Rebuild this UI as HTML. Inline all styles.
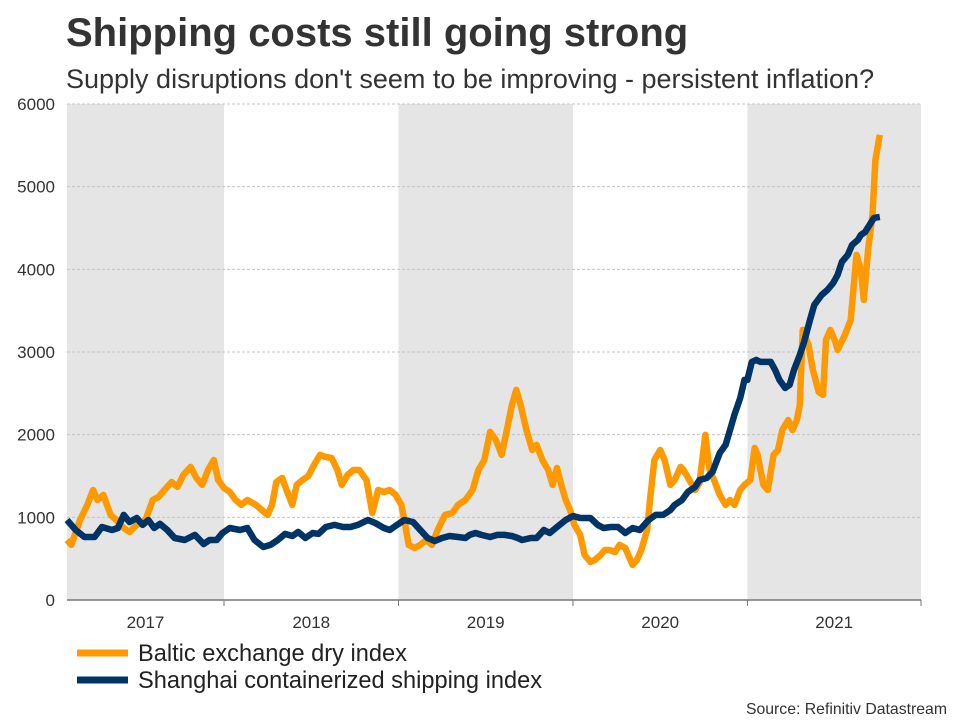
<!DOCTYPE html>
<html><head><meta charset="utf-8"><style>
body{margin:0;background:#fff;font-family:"Liberation Sans",Arial,sans-serif;}
svg text{font-family:"Liberation Sans",Arial,sans-serif;}
</style></head><body>
<svg id="chart" width="960" height="720" viewBox="0 0 960 720">
<text x="66" y="46" font-size="40" font-weight="bold" fill="#333">Shipping costs still going strong</text>
<text x="66" y="88" font-size="27" fill="#333">Supply disruptions don't seem to be improving - persistent inflation?</text>
<g id="bands"></g><g id="grid"></g><g id="axes"></g><g id="lines"></g>
<g>
<line x1="77" y1="653" x2="128" y2="653" stroke="#ff9900" stroke-width="7"/>
<text x="138" y="661" font-size="23.6" fill="#222">Baltic exchange dry index</text>
<line x1="77" y1="680" x2="128" y2="680" stroke="#003366" stroke-width="7"/>
<text x="138" y="688" font-size="23.6" fill="#222">Shanghai containerized shipping index</text>
</g>
<text x="947" y="714" font-size="15.8" fill="#333" text-anchor="end">Source: Refinitiv Datastream</text>
</svg>
<script>
// months since Jan 2017 (0 = Jan 2017)
const balticMonths=[1.2,1.5,2.1,2.6,3.0,3.3,3.7,4.2,4.6,5.1,5.5,6.0,6.6,7.1,7.5,7.9,8.4,8.8,9.2,9.7,10.1,10.5,10.9,11.3,11.6,12.0,12.4,12.8,13.2,13.6,14.2,14.6,15.0,15.3,15.6,16.0,16.3,16.7,17.0,17.4,17.8,18.2,18.6,19.0,19.4,19.8,20.1,20.5,20.9,21.3,21.8,22.2,22.6,23.0,23.4,23.8,24.2,24.4,24.7,25.1,25.5,25.9,26.3,26.7,27.2,27.7,28.1,28.6,29.1,29.5,29.9,30.3,30.7,31.1,31.5,31.8,32.1,32.4,32.8,33.2,33.5,33.9,34.3,34.6,34.9,35.2,35.5,35.8,36.1,36.5,36.8,37.2,37.5,37.9,38.2,38.5,38.9,39.2,39.6,39.8,40.1,40.4,40.7,41.1,41.3,41.6,42.0,42.3,42.7,43.0,43.4,43.6,44.0,44.4,44.7,45.1,45.4,45.7,46.1,46.5,46.8,47.1,47.5,47.8,48.2,48.5,48.7,49.1,49.4,49.8,50.1,50.4,50.8,51.1,51.4,51.6,51.8,52.2,52.5,52.9,53.2,53.4,53.7,54.0,54.2,54.7,55.1,55.5,55.8,56.0,56.3,56.6,56.8,57.1];
const balticValues=[726,666,968,1150,1331,1210,1271,1029,968,871,823,908,968,1210,1247,1331,1428,1368,1513,1610,1477,1392,1573,1694,1452,1355,1307,1210,1150,1210,1150,1089,1029,1150,1428,1477,1331,1150,1392,1452,1500,1634,1755,1730,1718,1573,1392,1513,1573,1573,1452,1053,1331,1307,1331,1271,1150,968,666,629,666,726,666,847,1029,1053,1150,1210,1331,1573,1694,2033,1936,1755,2093,2360,2541,2360,2057,1815,1876,1694,1573,1392,1597,1392,1210,1089,908,787,545,460,484,545,605,605,581,666,629,545,424,484,605,847,1210,1694,1815,1694,1392,1452,1610,1573,1452,1331,1416,1997,1573,1452,1271,1150,1210,1150,1331,1392,1452,1839,1755,1392,1331,1755,1815,2057,2178,2057,2178,2360,3267,3086,2783,2517,2481,3146,3267,3146,3025,3207,3388,4175,3993,3630,4235,4659,5324,5627];
const shanghaiMonths=[1.2,1.8,2.4,3.1,3.6,4.3,4.7,5.1,5.5,6.0,6.4,6.8,7.2,7.6,8.1,8.6,9.3,10.0,10.6,11.0,11.5,11.9,12.4,13.1,13.6,14.1,14.7,15.2,15.7,16.2,16.7,17.1,17.6,18.1,18.5,19.0,19.6,20.2,20.7,21.2,21.9,22.4,23.0,23.4,23.9,24.4,25.0,25.5,26.0,26.5,27.0,27.5,28.1,28.6,28.9,29.3,29.7,30.3,30.8,31.3,31.8,32.2,32.5,33.1,33.5,34.0,34.4,34.9,35.5,36.0,36.5,37.2,37.7,38.1,38.6,39.1,39.6,40.1,40.6,41.2,41.7,42.2,42.7,43.0,43.5,43.9,44.4,44.7,45.2,45.6,46.1,46.5,46.8,47.1,47.5,47.8,48.0,48.3,48.6,48.9,49.3,49.6,49.9,50.2,50.6,50.9,51.2,51.6,51.9,52.3,52.6,53.1,53.5,53.9,54.2,54.5,54.9,55.2,55.6,55.8,56.1,56.4,56.7,57.1];
const shanghaiValues=[968,847,762,762,883,847,871,1029,944,992,908,968,871,920,847,750,726,787,678,726,726,811,871,847,871,726,641,666,726,799,774,823,750,811,799,883,908,883,883,908,968,932,871,847,908,968,944,847,750,714,750,774,762,750,787,811,787,762,787,787,774,750,726,750,750,847,811,883,968,1016,992,992,908,871,883,883,811,871,847,968,1029,1029,1089,1150,1210,1307,1368,1452,1476,1549,1779,1876,2057,2239,2444,2662,2662,2880,2904,2880,2880,2880,2783,2662,2565,2602,2783,2965,3122,3388,3570,3690,3751,3836,3933,4090,4175,4296,4356,4417,4453,4538,4622,4634];
const yTicks=[0,1000,2000,3000,4000,5000,6000];
const yearLabels=["2017","2018","2019","2020","2021"];
const yearStarts=[1.2,12,24,36,48]; // band start months
const ns="http://www.w3.org/2000/svg";
const X0=67,X1=921,Y0=600,Y1=104;
function xs(m){return 224+(m-12)*14.54;}
function ys(v){return Y0-(v/6000)*(Y0-Y1);}
function mk(t,a,p){const e=document.createElementNS(ns,t);for(const k in a)e.setAttribute(k,a[k]);p.appendChild(e);return e;}
const bands=document.getElementById('bands'),grid=document.getElementById('grid'),axes=document.getElementById('axes'),lines=document.getElementById('lines');
yearLabels.forEach((lab,i)=>{
  const a=xs(yearStarts[i]), b=i<4?xs(yearStarts[i+1]):X1;
  if(i%2===0){const r=mk('rect',{x:a,y:Y1,width:b-a,height:Y0-Y1,fill:'#e5e5e5'},bands);
  
  }
  const t=mk('text',{x:(a+b)/2,y:628,'font-size':17,fill:'#333','text-anchor':'middle'},axes);t.textContent=lab;
  
  
  if(i>0){const tk=mk('line',{x1:a,y1:Y0,x2:a,y2:606,stroke:'#777','stroke-width':1},axes);
  
  }
});
const endTick=mk('line',{x1:X1,y1:Y0,x2:X1,y2:606,stroke:'#777','stroke-width':1},axes);


yTicks.forEach(v=>{
  if(v>0){const g=mk('line',{x1:X0,y1:ys(v),x2:X1,y2:ys(v),stroke:'#c4c4c4','stroke-dasharray':'3,2','stroke-width':1},grid);
  
  }
  const t=mk('text',{x:55,y:ys(v)+6,'font-size':17,fill:'#333','text-anchor':'end'},axes);t.textContent=v;
  
  
});
const ax=mk('line',{x1:X0,y1:Y0,x2:X1,y2:Y0,stroke:'#777','stroke-width':1.5},axes);


function path(ms,vs,color,name){
  const d=ms.map((m,i)=>(i?'L':'M')+xs(m).toFixed(1)+','+ys(vs[i]).toFixed(1)).join('');
  const p=mk('path',{d:d,fill:'none',stroke:color,'stroke-width':6.5,'stroke-linejoin':'round'},lines);
  
  
}
path(balticMonths,balticValues,'#ff9900','baltic-line');
path(shanghaiMonths,shanghaiValues,'#003366','shanghai-line');
</script>
</body></html>
